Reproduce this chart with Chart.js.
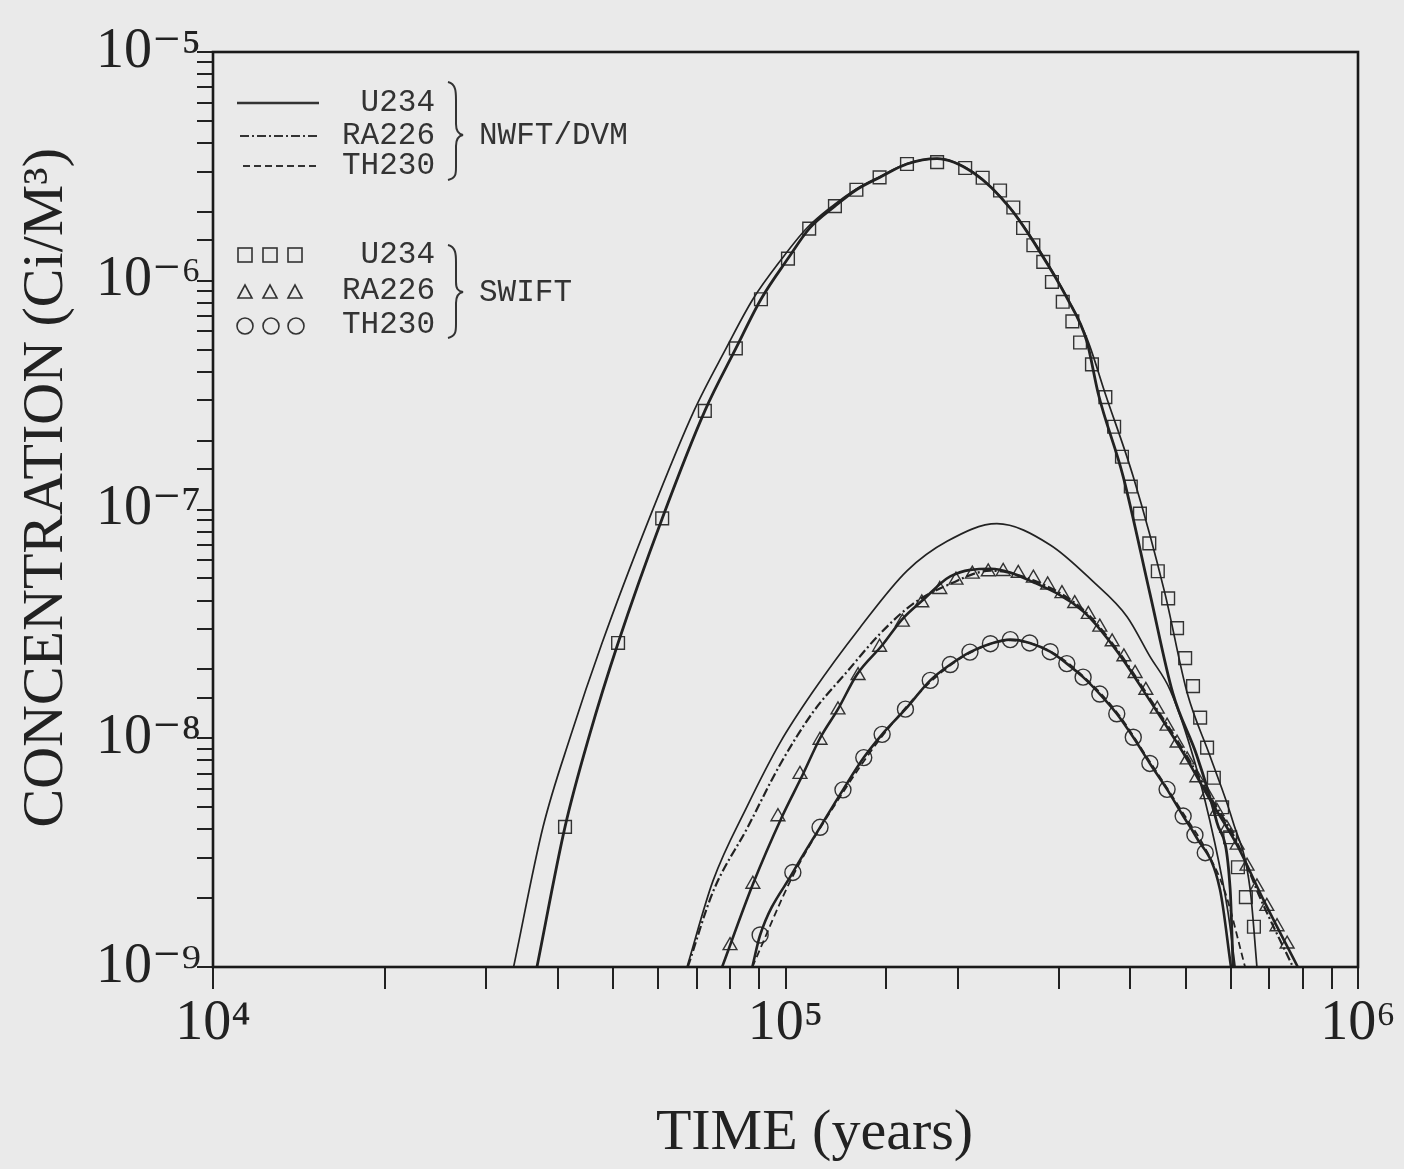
<!DOCTYPE html>
<html><head><meta charset="utf-8">
<script src="https://cdn.jsdelivr.net/npm/chart.js@4/dist/chart.umd.min.js"></script>
<style>
html,body{margin:0;padding:0;background:#eaeaea;}
#wrap{position:relative;width:1404px;height:1169px;overflow:hidden;}
#c{position:absolute;left:0;top:0;}
#lgsvg{position:absolute;left:0;top:0;}
.lg{position:absolute;font-family:"Liberation Mono","DejaVu Sans Mono",monospace;font-size:31px;color:#333;line-height:32px;white-space:pre;}
.r{text-align:right;}
</style></head><body>
<div id="wrap">
<canvas id="c" width="1404" height="1169"></canvas>
<svg id="lgsvg" width="1404" height="400">
  <g stroke="#333" fill="none">
    <line x1="237" y1="103" x2="319" y2="103" stroke-width="2.4"/>
    <line x1="240" y1="136" x2="319" y2="136" stroke-width="2.2" stroke-dasharray="9,3,2,3"/>
    <line x1="243" y1="166" x2="319" y2="166" stroke-width="2.2" stroke-dasharray="7,4"/>
    <rect x="238" y="248" width="14" height="14" stroke-width="1.6"/>
    <rect x="263" y="248" width="14" height="14" stroke-width="1.6"/>
    <rect x="288" y="248" width="14" height="14" stroke-width="1.6"/>
    <polygon points="238,298 245,285 252,298" stroke-width="1.6"/>
    <polygon points="263,298 270,285 277,298" stroke-width="1.6"/>
    <polygon points="288,298 295,285 302,298" stroke-width="1.6"/>
    <circle cx="245" cy="326" r="8" stroke-width="1.6"/>
    <circle cx="271" cy="326" r="8" stroke-width="1.6"/>
    <circle cx="296" cy="326" r="8" stroke-width="1.6"/>
    <path d="M448,82 C456,84 456,92 456,100 L456,124 C456,131 458,134 463,135 C458,136 456,139 456,146 L456,167 C456,174 456,178 448,180" stroke-width="2"/>
    <path d="M448,245 C456,247 456,255 456,262 L456,282 C456,289 458,291 463,292 C458,293 456,296 456,303 L456,324 C456,331 456,336 448,338" stroke-width="2"/>
  </g>
</svg>
<div class="lg r" style="right:969px;top:87px;">U234</div>
<div class="lg r" style="right:969px;top:120px;">RA226</div>
<div class="lg r" style="right:969px;top:150px;">TH230</div>
<div class="lg" style="left:479px;top:120px;">NWFT/DVM</div>
<div class="lg r" style="right:969px;top:239px;">U234</div>
<div class="lg r" style="right:969px;top:275px;">RA226</div>
<div class="lg r" style="right:969px;top:309px;">TH230</div>
<div class="lg" style="left:479px;top:277px;">SWIFT</div>
</div>
<script>
// ---- data (time in years, concentration in Ci/M^3) ----
const u234ThinT = [3.35e4, 3.77e4, 4.22e4, 4.78e4, 5.78e4, 6.92e4, 7.87e4, 8.77e4, 9.86e4, 1.09e5, 1.21e5, 1.33e5, 1.46e5, 1.63e5, 1.84e5, 2.13e5, 2.47e5, 2.78e5, 3.10e5, 3.37e5, 3.62e5, 4.05e5, 4.60e5, 5.03e5, 5.51e5, 6.05e5, 6.48e5, 6.66e5];
const u234ThinC = [1.0e-9, 4.08e-9, 1.035e-8, 2.60e-8, 9.12e-8, 2.70e-7, 5.05e-7, 8.3e-7, 1.25e-6, 1.70e-6, 2.13e-6, 2.52e-6, 2.85e-6, 3.25e-6, 3.42e-6, 2.98e-6, 2.08e-6, 1.36e-6, 8.5e-7, 5.5e-7, 3.2e-7, 1.39e-7, 4.30e-8, 1.58e-8, 8.4e-9, 4.3e-9, 2.19e-9, 1.0e-9];

const u234DvmT = [3.68e4, 4.12e4, 4.55e4, 5.10e4, 6.09e4, 7.23e4, 8.19e4, 9.06e4, 1.01e5, 1.10e5, 1.22e5, 1.33e5, 1.46e5, 1.63e5, 1.84e5, 2.13e5, 2.47e5, 2.78e5, 3.10e5, 3.36e5, 3.52e5, 3.89e5, 4.33e5, 4.75e5, 5.23e5, 5.67e5, 5.98e5, 6.05e5];
const u234DvmC = [1.0e-9, 4.10e-9, 1.04e-8, 2.61e-8, 9.14e-8, 2.70e-7, 5.06e-7, 8.3e-7, 1.25e-6, 1.69e-6, 2.12e-6, 2.50e-6, 2.83e-6, 3.24e-6, 3.42e-6, 2.96e-6, 2.07e-6, 1.34e-6, 8.43e-7, 5.43e-7, 3.19e-7, 1.39e-7, 4.30e-8, 1.57e-8, 8.39e-9, 4.29e-9, 2.19e-9, 1.0e-9];

const lowThinT = [6.73e4, 7.47e4, 8.57e4, 9.78e4, 1.117e5, 1.35e5, 1.63e5, 1.915e5, 2.34e5, 2.90e5, 3.44e5, 3.95e5, 4.33e5, 4.70e5, 5.19e5, 5.62e5, 5.93e5, 6.10e5];
const lowThinC = [1.0e-9, 2.38e-9, 5.04e-9, 9.55e-9, 1.60e-8, 3.05e-8, 5.39e-8, 7.26e-8, 8.67e-8, 7.0e-8, 4.86e-8, 3.40e-8, 2.28e-8, 1.62e-8, 7.81e-9, 3.50e-9, 1.73e-9, 1.0e-9];

const ra226DvmT = [6.75e4, 7.47e4, 8.57e4, 9.78e4, 1.117e5, 1.28e5, 1.46e5, 1.67e5, 1.915e5, 2.28e5, 2.71e5, 3.31e5, 3.79e5, 4.33e5, 4.95e5, 5.51e5, 6.15e5, 6.75e5, 7.70e5];
const ra226DvmC = [1.0e-9, 2.13e-9, 4.04e-9, 7.66e-9, 1.30e-8, 1.95e-8, 2.85e-8, 3.87e-8, 4.66e-8, 5.40e-8, 4.9e-8, 3.65e-8, 2.45e-8, 1.49e-8, 8.9e-9, 5.6e-9, 3.5e-9, 2.0e-9, 1.0e-9];

const raThickT = [7.75e4, 8.77e4, 9.86e4, 1.07e5, 1.149e5, 1.235e5, 1.333e5, 1.475e5, 1.60e5, 1.74e5, 1.94e5, 2.28e5, 2.71e5, 3.31e5, 3.79e5, 4.33e5, 4.95e5, 5.51e5, 6.15e5, 6.82e5, 7.85e5];
const raThickC = [1.0e-9, 2.30e-9, 4.54e-9, 6.87e-9, 1.0e-8, 1.34e-8, 1.90e-8, 2.55e-8, 3.32e-8, 4.03e-8, 5.10e-8, 5.51e-8, 4.81e-8, 3.59e-8, 2.41e-8, 1.46e-8, 8.63e-9, 5.40e-9, 3.41e-9, 1.99e-9, 1.0e-9];

const thThickT = [8.75e4, 9.03e4, 1.03e5, 1.149e5, 1.26e5, 1.37e5, 1.475e5, 1.62e5, 1.79e5, 1.94e5, 2.10e5, 2.28e5, 2.47e5, 2.67e5, 2.90e5, 3.10e5, 3.31e5, 3.54e5, 3.79e5, 4.05e5, 4.33e5, 4.64e5, 4.95e5, 5.19e5, 5.74e5, 6.0e5];
const thThickC = [1.0e-9, 1.38e-9, 2.59e-9, 4.08e-9, 5.95e-9, 8.23e-9, 1.04e-8, 1.34e-8, 1.79e-8, 2.10e-8, 2.38e-8, 2.59e-8, 2.70e-8, 2.61e-8, 2.39e-8, 2.12e-8, 1.85e-8, 1.56e-8, 1.28e-8, 1.01e-8, 7.76e-9, 5.98e-9, 4.57e-9, 3.78e-9, 2.18e-9, 1.0e-9];

const th230DvmT = [8.75e4, 1.03e5, 1.26e5, 1.475e5, 1.79e5, 2.10e5, 2.47e5, 2.90e5, 3.31e5, 3.79e5, 4.33e5, 4.95e5, 5.41e5, 5.86e5, 6.35e5];
const th230DvmC = [1.0e-9, 2.5e-9, 5.8e-9, 1.02e-8, 1.76e-8, 2.36e-8, 2.68e-8, 2.40e-8, 1.87e-8, 1.30e-8, 7.9e-9, 4.7e-9, 3.3e-9, 2.12e-9, 1.0e-9];

const u234SwiftT = [4.12e4, 5.10e4, 6.09e4, 7.23e4, 8.19e4, 9.06e4, 1.01e5, 1.10e5, 1.22e5, 1.33e5, 1.46e5, 1.63e5, 1.84e5, 2.06e5, 2.21e5, 2.37e5, 2.50e5, 2.60e5, 2.71e5, 2.82e5, 2.92e5, 3.05e5, 3.17e5, 3.27e5, 3.43e5, 3.62e5, 3.75e5, 3.87e5, 4.01e5, 4.16e5, 4.32e5, 4.47e5, 4.66e5, 4.83e5, 4.99e5, 5.15e5, 5.30e5, 5.45e5, 5.60e5, 5.79e5, 5.98e5, 6.17e5, 6.37e5, 6.58e5];
const u234SwiftC = [4.10e-9, 2.61e-8, 9.14e-8, 2.70e-7, 5.06e-7, 8.3e-7, 1.25e-6, 1.69e-6, 2.12e-6, 2.50e-6, 2.83e-6, 3.24e-6, 3.30e-6, 3.11e-6, 2.82e-6, 2.48e-6, 2.09e-6, 1.70e-6, 1.43e-6, 1.21e-6, 9.88e-7, 8.09e-7, 6.64e-7, 5.37e-7, 4.31e-7, 3.10e-7, 2.30e-7, 1.70e-7, 1.26e-7, 9.6e-8, 7.11e-8, 5.37e-8, 4.09e-8, 3.03e-8, 2.24e-8, 1.69e-8, 1.23e-8, 9.1e-9, 6.72e-9, 4.99e-9, 3.69e-9, 2.73e-9, 2.02e-9, 1.50e-9];

const ra226SwiftT = [8.0e4, 8.77e4, 9.70e4, 1.06e5, 1.149e5, 1.235e5, 1.339e5, 1.46e5, 1.60e5, 1.73e5, 1.86e5, 1.985e5, 2.12e5, 2.26e5, 2.40e5, 2.55e5, 2.71e5, 2.87e5, 3.04e5, 3.20e5, 3.38e5, 3.54e5, 3.72e5, 3.90e5, 4.08e5, 4.26e5, 4.46e5, 4.64e5, 4.83e5, 5.03e5, 5.23e5, 5.45e5, 5.67e5, 5.90e5, 6.15e5, 6.40e5, 6.66e5, 6.93e5, 7.22e5, 7.52e5];
const ra226SwiftC = [1.24e-9, 2.30e-9, 4.54e-9, 6.95e-9, 9.8e-9, 1.33e-8, 1.88e-8, 2.50e-8, 3.22e-8, 3.91e-8, 4.47e-8, 4.91e-8, 5.22e-8, 5.34e-8, 5.36e-8, 5.26e-8, 5.01e-8, 4.68e-8, 4.29e-8, 3.88e-8, 3.48e-8, 3.06e-8, 2.64e-8, 2.27e-8, 1.92e-8, 1.62e-8, 1.34e-8, 1.13e-8, 9.53e-9, 8.04e-9, 6.72e-9, 5.67e-9, 4.79e-9, 4.04e-9, 3.41e-9, 2.76e-9, 2.24e-9, 1.84e-9, 1.50e-9, 1.26e-9];

const th230SwiftT = [9.03e4, 1.03e5, 1.149e5, 1.26e5, 1.37e5, 1.475e5, 1.62e5, 1.79e5, 1.94e5, 2.10e5, 2.28e5, 2.47e5, 2.67e5, 2.90e5, 3.10e5, 3.31e5, 3.54e5, 3.79e5, 4.05e5, 4.33e5, 4.64e5, 4.95e5, 5.19e5, 5.41e5];
const th230SwiftC = [1.38e-9, 2.59e-9, 4.08e-9, 5.95e-9, 8.23e-9, 1.04e-8, 1.34e-8, 1.79e-8, 2.10e-8, 2.38e-8, 2.59e-8, 2.70e-8, 2.61e-8, 2.39e-8, 2.12e-8, 1.85e-8, 1.56e-8, 1.28e-8, 1.01e-8, 7.76e-9, 5.98e-9, 4.57e-9, 3.78e-9, 3.16e-9];

const xMin = 1e4, xMax = 1e6, yMin = 1e-9, yMax = 1e-5;
const xTitle = '    TIME (years)';
const yTitle = '   CONCENTRATION (Ci/M\u00B3)';

// ---- helpers ----
const pts = (t, c) => t.map((v, i) => ({x: v, y: c[i]}));
const SUP = {'-':'\u207B','0':'\u2070','1':'\u00B9','2':'\u00B2','3':'\u00B3','4':'\u2074','5':'\u2075','6':'\u2076','7':'\u2077','8':'\u2078','9':'\u2079'};
function decadeLabel(v) {
  const e = Math.round(Math.log10(v));
  if (Math.abs(v / Math.pow(10, e) - 1) < 1e-6) return '10' + String(e).split('').map(ch => SUP[ch]).join('');
  return '';
}
const INK = '#222';
function lineDs(label, t, c, w, dash) {
  return {label, type: 'line', data: pts(t, c), borderColor: INK, borderWidth: w, borderDash: dash || [],
    pointRadius: 0, fill: false, cubicInterpolationMode: 'monotone', showLine: true};
}
function markDs(label, t, c, style, r) {
  return {label, type: 'line', data: pts(t, c), showLine: false, pointStyle: style, pointRadius: r,
    pointBorderColor: '#333', pointBackgroundColor: 'rgba(0,0,0,0)', pointBorderWidth: 1.4, borderColor: '#333'};
}

const framePlugin = {
  id: 'frame',
  afterDraw(chart) {
    const {ctx, chartArea: a} = chart;
    ctx.save();
    ctx.strokeStyle = '#1a1a1a';
    ctx.lineWidth = 2.6;
    ctx.strokeRect(a.left, a.top, a.right - a.left, a.bottom - a.top);
    ctx.restore();
  }
};

const serif = '"Liberation Serif", "DejaVu Serif", serif';

new Chart(document.getElementById('c'), {
  type: 'line',
  data: {
    datasets: [
      lineDs('U234 (thin)', u234ThinT, u234ThinC, 1.7),
      lineDs('U234 NWFT/DVM', u234DvmT, u234DvmC, 2.8),
      lineDs('low thin', lowThinT, lowThinC, 1.7),
      lineDs('RA226 NWFT/DVM', ra226DvmT, ra226DvmC, 2.2, [9, 3, 2, 3]),
      lineDs('RA226 line', raThickT, raThickC, 2.6),
      lineDs('TH230 line', thThickT, thThickC, 2.6),
      lineDs('TH230 NWFT/DVM', th230DvmT, th230DvmC, 1.8, [7, 4]),
      markDs('U234 SWIFT', u234SwiftT, u234SwiftC, 'rect', 9),
      markDs('RA226 SWIFT', ra226SwiftT, ra226SwiftC, 'triangle', 8),
      markDs('TH230 SWIFT', th230SwiftT, th230SwiftC, 'circle', 8)
    ]
  },
  options: {
    responsive: false,
    animation: false,
    devicePixelRatio: 1,
    layout: {padding: {left: 0, right: 46, top: 52, bottom: 0}},
    plugins: {legend: {display: false}, tooltip: {enabled: false}},
    scales: {
      x: {
        type: 'logarithmic', min: xMin, max: xMax, position: 'bottom',
        afterFit(s) { s.height = 202; },
        border: {display: false},
        grid: {drawOnChartArea: false, drawTicks: true, tickLength: 22, color: INK, lineWidth: 2},
        ticks: {autoSkip: false, maxRotation: 0, padding: 2, color: INK,
          font: {family: serif, size: 56}, callback: (v) => decadeLabel(v)},
        title: {display: true, text: xTitle, color: INK, font: {family: serif, size: 58}, padding: {top: 0, bottom: 0}}
      },
      y: {
        type: 'logarithmic', min: yMin, max: yMax,
        afterFit(s) { s.width = 213; },
        border: {display: false},
        grid: {drawOnChartArea: false, drawTicks: true, tickLength: 16, color: INK, lineWidth: 2},
        ticks: {autoSkip: false, padding: -4, color: INK,
          font: {family: serif, size: 56}, callback: (v) => decadeLabel(v)},
        title: {display: true, text: yTitle, color: INK, font: {family: serif, size: 58}, padding: {top: 12, bottom: 0}}
      }
    }
  },
  plugins: [framePlugin]
});
</script>
</body></html>
